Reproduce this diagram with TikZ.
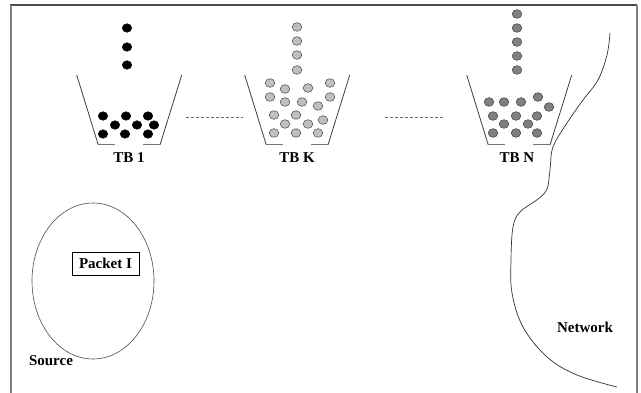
\documentclass[tikz,border=0pt]{standalone}
\usepackage{fontspec}
\setmainfont{Liberation Serif}
\usetikzlibrary{shapes.geometric}
\newcommand{\bucketat}[1]{%
  \draw[wall] (#1+76.7,75) -- (#1+98.3,145);
  \draw[wall] (#1+181.7,75) -- (#1+160,145);
  \draw[floorline] (#1+98.3,145) -- (#1+115,145);
  \draw[floorline] (#1+143,145) -- (#1+160,145);
}
\begin{document}
\begin{tikzpicture}[x=1pt,y=-1pt,
  lbl/.style={font=\bfseries\fontsize{15}{17}\selectfont, inner sep=0pt, anchor=base},
  wall/.style={draw=black!75, line width=0.8pt},
  floorline/.style={draw=black!55, line width=1pt},
  blackdot/.style={fill=black, draw=black, line width=0.4pt},
  lightdot/.style={fill=black!25, draw=black!65, line width=0.6pt},
  darkdot/.style={fill=black!50, draw=black!70, line width=0.6pt},
  linkdash/.style={draw=black!60, line width=0.7pt, dash pattern=on 3pt off 2pt},
  frameline/.style={draw=black!70, line width=1.3pt}]
\useasboundingbox (0,0) rectangle (641,393);
\fill[white] (0,0) rectangle (641,393);
% frame
\draw[frameline] (10,5) -- (637,5);
\draw[frameline, draw=black!50] (11,5) -- (11,393);
\draw[frameline, draw=black!50] (637,5) -- (637,393);
% buckets
\bucketat{0}
\bucketat{168}
\bucketat{390}
% TB1 dots
\foreach \x/\y in {127/28,127/47,127/65,
  103/116,126/116,148/116,115/125,137/125,154/125,103/134,125/134,148/134}
  \path[blackdot] (\x,\y) ellipse [x radius=4.8, y radius=4.3];
% TBK dots
\foreach \x/\y in {297/27,297/41,297/55,297/70,
  270/83,285/89,308/88,330/83,
  270/97,285/102,302/102,318/106,330/97,
  274/115,296/115,323/120,285/124,308/124,
  274/133,296/133,318/133}
  \path[lightdot] (\x,\y) ellipse [x radius=4.8, y radius=4.3];
% TBN dots
\foreach \x/\y in {517/14,517/28,517/42,517/56,517/70,
  489/102,504/102,521/102,538/97,549/107,
  493/116,516/116,537/116,
  504/124,528/124,
  493/133,516/133,537/133}
  \path[darkdot] (\x,\y) ellipse [x radius=4.8, y radius=4.3];
% dashed links
\coordinate (d1a) at (186,117);
\coordinate (d1b) at (243,117);
\coordinate (d2a) at (385,117);
\coordinate (d2b) at (443,117);
\draw[linkdash] (d1a) -- (d1b);
\draw[linkdash] (d2a) -- (d2b);
% labels
\node[lbl] (tb1) at (129,163) {TB 1};
\node[lbl] (tbk) at (297,163) {TB K};
\node[lbl] (tbn) at (517,163) {TB N};
% source
\node[draw=black!70, line width=0.6pt, ellipse, minimum width=122pt, minimum height=156pt, inner sep=0pt] (src) at (93,281) {};
\node[draw=black, line width=0.7pt, minimum width=67pt, minimum height=23pt, inner sep=0pt, font=\bfseries\fontsize{15}{17}\selectfont] (pkt) at (105.5,263.5) {Packet I};
\node[lbl] (srclbl) at (51,366) {Source};
% network
\draw[black!80, line width=0.7pt] plot[smooth, tension=0.6] coordinates {(610,33) (607,55) (598,80) (583,100) (567,123) (553,147) (550,170) (547,189) (538,199) (520,212) (513,227) (511,260) (512,293) (523,327) (547,357) (577,375) (617,387)};
\node[lbl] (net) at (585,333) {Network};
\end{tikzpicture}
\end{document}
